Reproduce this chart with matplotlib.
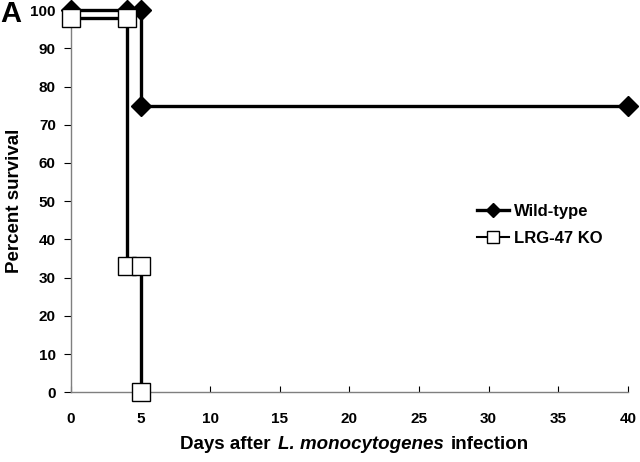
import matplotlib
matplotlib.use("Agg")
import matplotlib.pyplot as plt
from matplotlib.lines import Line2D
from matplotlib.offsetbox import TextArea, HPacker, AnchoredOffsetbox

plt.rcParams['font.family'] = ['Liberation Sans', 'DejaVu Sans']
plt.rcParams['font.weight'] = 'bold'

# Data (step survival curves)
wt_days = [0, 4, 5, 5, 40]
wt_surv = [100, 100, 100, 75, 75]
ko_days = [0, 4, 4, 5, 5]
ko_surv = [98, 98, 33, 33, 0]

xticks = [0, 5, 10, 15, 20, 25, 30, 35, 40]
yticks = [0, 10, 20, 30, 40, 50, 60, 70, 80, 90, 100]

fig = plt.figure(figsize=(6.4, 4.62), dpi=100)
ax = fig.add_axes([0.111, 0.151, 0.870, 0.827])

ax.plot(wt_days, wt_surv, color='black', lw=2.4, marker='D', ms=10,
        mfc='black', mec='black', clip_on=False, zorder=3)
ax.plot(ko_days, ko_surv, color='black', lw=2.4, marker='s', ms=13,
        mfc='white', mec='black', mew=1.0, clip_on=False, zorder=4)

ax.set_xlim(0, 40)
ax.set_ylim(0, 100)
ax.set_xticks(xticks)
ax.set_yticks(yticks)
ax.tick_params(axis='x', direction='in', length=4, width=0.8, colors='black',
               labelsize=11, pad=14)
ax.tick_params(axis='y', direction='out', length=5, width=0.8, colors='black',
               labelsize=11, pad=6)
for lab in ax.get_xticklabels() + ax.get_yticklabels():
    lab.set_fontweight('bold')
for s in ['top', 'right']:
    ax.spines[s].set_visible(False)
for s in ['left', 'bottom']:
    ax.spines[s].set_color('#7f7f7f')
    ax.spines[s].set_linewidth(1.0)

ax.set_ylabel('Percent survival', fontsize=13.5, fontweight='bold', labelpad=5)

# x label with italic species name
t1 = TextArea('Days after', textprops=dict(fontsize=13.5, fontweight='bold'))
t2 = TextArea('L. monocytogenes', textprops=dict(fontsize=13.5, fontweight='bold', fontstyle='italic'))
t3 = TextArea('infection', textprops=dict(fontsize=13.5, fontweight='bold'))
box = HPacker(children=[t1, t2, t3], align='baseline', pad=0, sep=5)
anch = AnchoredOffsetbox(loc='center', child=box, frameon=False,
                         bbox_to_anchor=(0.554, 0.038), bbox_transform=fig.transFigure,
                         borderpad=0, pad=0)
fig.add_artist(anch)

handles = [Line2D([], [], color='black', lw=2.4, marker='D', ms=7, mfc='black', mec='black'),
           Line2D([], [], color='black', lw=1.5, marker='s', ms=9, mfc='white', mec='black', mew=1.0)]
leg = ax.legend(handles, ['Wild-type', 'LRG-47 KO'], loc='upper left',
                bbox_to_anchor=(0.746, 0.559), bbox_transform=fig.transFigure,
                frameon=False, fontsize=12, handlelength=1.9, handletextpad=0.3,
                labelspacing=0.72, borderpad=0, borderaxespad=0)
for t in leg.get_texts():
    t.set_fontweight('bold')

fig.text(0.0, 1.0, 'A', fontsize=21, fontweight='bold', va='top', ha='left')

fig.savefig('out.png', dpi=100)
